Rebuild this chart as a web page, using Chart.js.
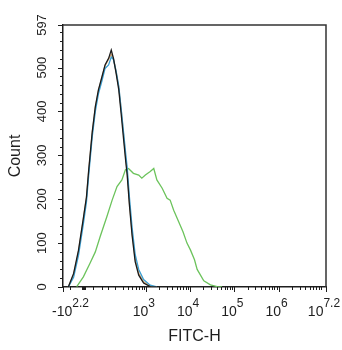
<!DOCTYPE html>
<html>
<head>
<meta charset="utf-8">
<title>FITC-H histogram</title>
<script src="https://cdn.jsdelivr.net/npm/chart.js@4.4.1/dist/chart.umd.min.js"></script>
<style>
  html, body { margin: 0; padding: 0; background: #fff; }
  #wrap { width: 342px; height: 350px; }
</style>
</head>
<body>
<div id="wrap"><canvas id="histo" width="342" height="350"></canvas></div>
<script>
// x values are display positions in decades (10^3 -> 3, 10^4 -> 4 ...)
var xMin = 1.13, xMax = 7.07;
var yMax = 597;

// control histograms (three overlaid unstained / isotype traces)
var ctrlX = [1.25, 1.37, 1.48, 1.59, 1.66, 1.71, 1.79, 1.86, 1.93, 2.01,
             2.08, 2.16, 2.22, 2.27, 2.33, 2.39, 2.45, 2.50, 2.55, 2.58,
             2.63, 2.69, 2.76, 2.84, 2.95, 3.10, 3.25];
var blackCounts = [0, 31, 84, 157, 205, 266, 353, 411, 449, 479,
                   506, 521, 540, 521, 487, 449, 388, 335, 283, 255,
                   187, 118, 58, 27, 9, 1, 0];
var tanCounts = [0, 28, 80, 154, 203, 263, 350, 408, 447, 477,
                 504, 519, 530, 520, 490, 455, 398, 345, 290, 262,
                 193, 124, 64, 31, 12, 2, 0];
var blueCounts = [0, 22, 72, 144, 194, 254, 342, 400, 440, 470,
                  498, 506, 524, 518, 492, 457, 400, 350, 300, 272,
                  205, 136, 74, 40, 17, 4, 0];

// stained sample
var greenX = [1.44, 1.59, 1.74, 1.86, 1.97, 2.12, 2.24, 2.35, 2.46, 2.54,
              2.61, 2.72, 2.84, 2.91, 2.99, 3.10, 3.18, 3.25, 3.37, 3.48,
              3.55, 3.63, 3.74, 3.84, 3.93, 4.01, 4.10, 4.16, 4.31, 4.46,
              4.61, 4.72];
var greenCounts = [1, 23, 54, 80, 115, 160, 198, 229, 244, 267,
                   270, 259, 255, 248, 255, 263, 270, 244, 225, 202,
                   198, 175, 149, 126, 100, 84, 62, 40, 14, 5,
                   1, 0];

// axis ticks
var yMajor = [0, 100, 200, 300, 400, 500, 597];
var yLabels = ['0', '100', '200', '300', '400', '500', '597'];
var xMajor = [1.13, 3, 4, 5, 6, 7.07];
var xBase = ['-10', '10', '10', '10', '10', '10'];
var xExp = ['2.2', '3', '4', '5', '6', '7.2'];
var xLinearMinor = [1.28, 1.55, 1.57, 1.59, 1.61, 1.63, 1.81, 2.0, 2.15];

var FONT = '"Liberation Sans", Arial, sans-serif';
var INK = '#1e1e1e';

var yMinor = [];
for (var v = 20; v < yMax; v += 20) {
  if (v % 100 !== 0) yMinor.push(v);
}
var xMinor = xLinearMinor.slice();
for (var d = 2; d <= 6; d++) {
  for (var m = 2; m <= 9; m++) {
    var t = d + Math.log10(m);
    if (t < xMax) xMinor.push(t);
  }
}

function pairs(xs, ys) {
  return xs.map(function (x, i) { return { x: x, y: ys[i] }; });
}

function trace(label, xs, ys, color) {
  return {
    label: label,
    data: pairs(xs, ys),
    borderColor: color,
    borderWidth: 1.3,
    pointRadius: 0,
    fill: false,
    tension: 0
  };
}

// frame, tick marks and superscript labels
var axisDecor = {
  id: 'axisDecor',
  afterDraw: function (chart) {
    var ctx = chart.ctx, a = chart.chartArea;
    var xs = chart.scales.x, ys = chart.scales.y;
    ctx.save();

    ctx.strokeStyle = '#333';
    ctx.lineWidth = 1.5;
    ctx.beginPath();
    ctx.moveTo(a.left, a.top);
    ctx.lineTo(a.right, a.top);
    ctx.lineTo(a.right, a.bottom);
    ctx.stroke();

    ctx.strokeStyle = INK;
    ctx.lineWidth = 1;
    ctx.beginPath();
    yMajor.forEach(function (v) {
      var p = Math.round(ys.getPixelForValue(v)) + 0.5;
      ctx.moveTo(a.left - 5, p); ctx.lineTo(a.left, p);
    });
    yMinor.forEach(function (v) {
      var p = Math.round(ys.getPixelForValue(v)) + 0.5;
      ctx.moveTo(a.left - 3, p); ctx.lineTo(a.left, p);
    });
    xMajor.forEach(function (v) {
      var p = Math.round(xs.getPixelForValue(v)) + 0.5;
      ctx.moveTo(p, a.bottom); ctx.lineTo(p, a.bottom + 5);
    });
    xMinor.forEach(function (v) {
      var p = Math.round(xs.getPixelForValue(v)) + 0.5;
      ctx.moveTo(p, a.bottom); ctx.lineTo(p, a.bottom + 3);
    });
    ctx.stroke();

    ctx.fillStyle = INK;
    ctx.font = '13px ' + FONT;
    ctx.textAlign = 'center';
    ctx.textBaseline = 'alphabetic';
    yMajor.forEach(function (v, i) {
      var p = ys.getPixelForValue(v);
      ctx.save();
      ctx.translate(46, p);
      ctx.rotate(-Math.PI / 2);
      ctx.fillText(yLabels[i], 0, 0);
      ctx.restore();
    });

    ctx.textAlign = 'left';
    xMajor.forEach(function (v, i) {
      ctx.font = '14px ' + FONT;
      var wb = ctx.measureText(xBase[i]).width;
      ctx.font = '12px ' + FONT;
      var we = ctx.measureText(xExp[i]).width;
      var w = wb + we;
      var left = xs.getPixelForValue(v) - 2 - w / 2;
      if (left < 52) left = 52;
      if (left + w > 341) left = 341 - w;
      ctx.font = '14px ' + FONT;
      ctx.fillText(xBase[i], left, 316);
      ctx.font = '12px ' + FONT;
      ctx.fillText(xExp[i], left + wb, 307);
    });

    ctx.restore();
  }
};

new Chart(document.getElementById('histo'), {
  type: 'line',
  data: {
    datasets: [
      trace('Control 1', ctrlX, blackCounts, '#1a1a1a'),
      trace('Control 3', ctrlX, blueCounts, '#3c9fd2'),
      trace('Control 2', ctrlX, tanCounts, '#d6a774'),
      trace('Sample', greenX, greenCounts, '#6cc35c')
    ]
  },
  options: {
    responsive: false,
    animation: false,
    layout: { padding: { top: 25, right: 16, bottom: 0, left: 0 } },
    plugins: {
      legend: { display: false },
      tooltip: { enabled: false }
    },
    scales: {
      x: {
        type: 'linear',
        min: xMin,
        max: xMax,
        ticks: { display: false },
        grid: { display: false },
        border: { display: true, color: INK, width: 1.5 },
        title: {
          display: true,
          text: 'FITC-H',
          color: INK,
          font: { family: FONT, size: 16 },
          padding: { top: 4, bottom: 4 }
        },
        afterFit: function (s) { s.height = 63; }
      },
      y: {
        type: 'linear',
        min: 0,
        max: yMax,
        ticks: { display: false },
        grid: { display: false },
        border: { display: true, color: INK, width: 1.5 },
        title: {
          display: true,
          text: 'Count',
          color: INK,
          font: { family: FONT, size: 16 },
          padding: { top: 6, bottom: 0 }
        },
        afterFit: function (s) { s.width = 63; }
      }
    }
  },
  plugins: [axisDecor]
});
</script>
</body>
</html>
